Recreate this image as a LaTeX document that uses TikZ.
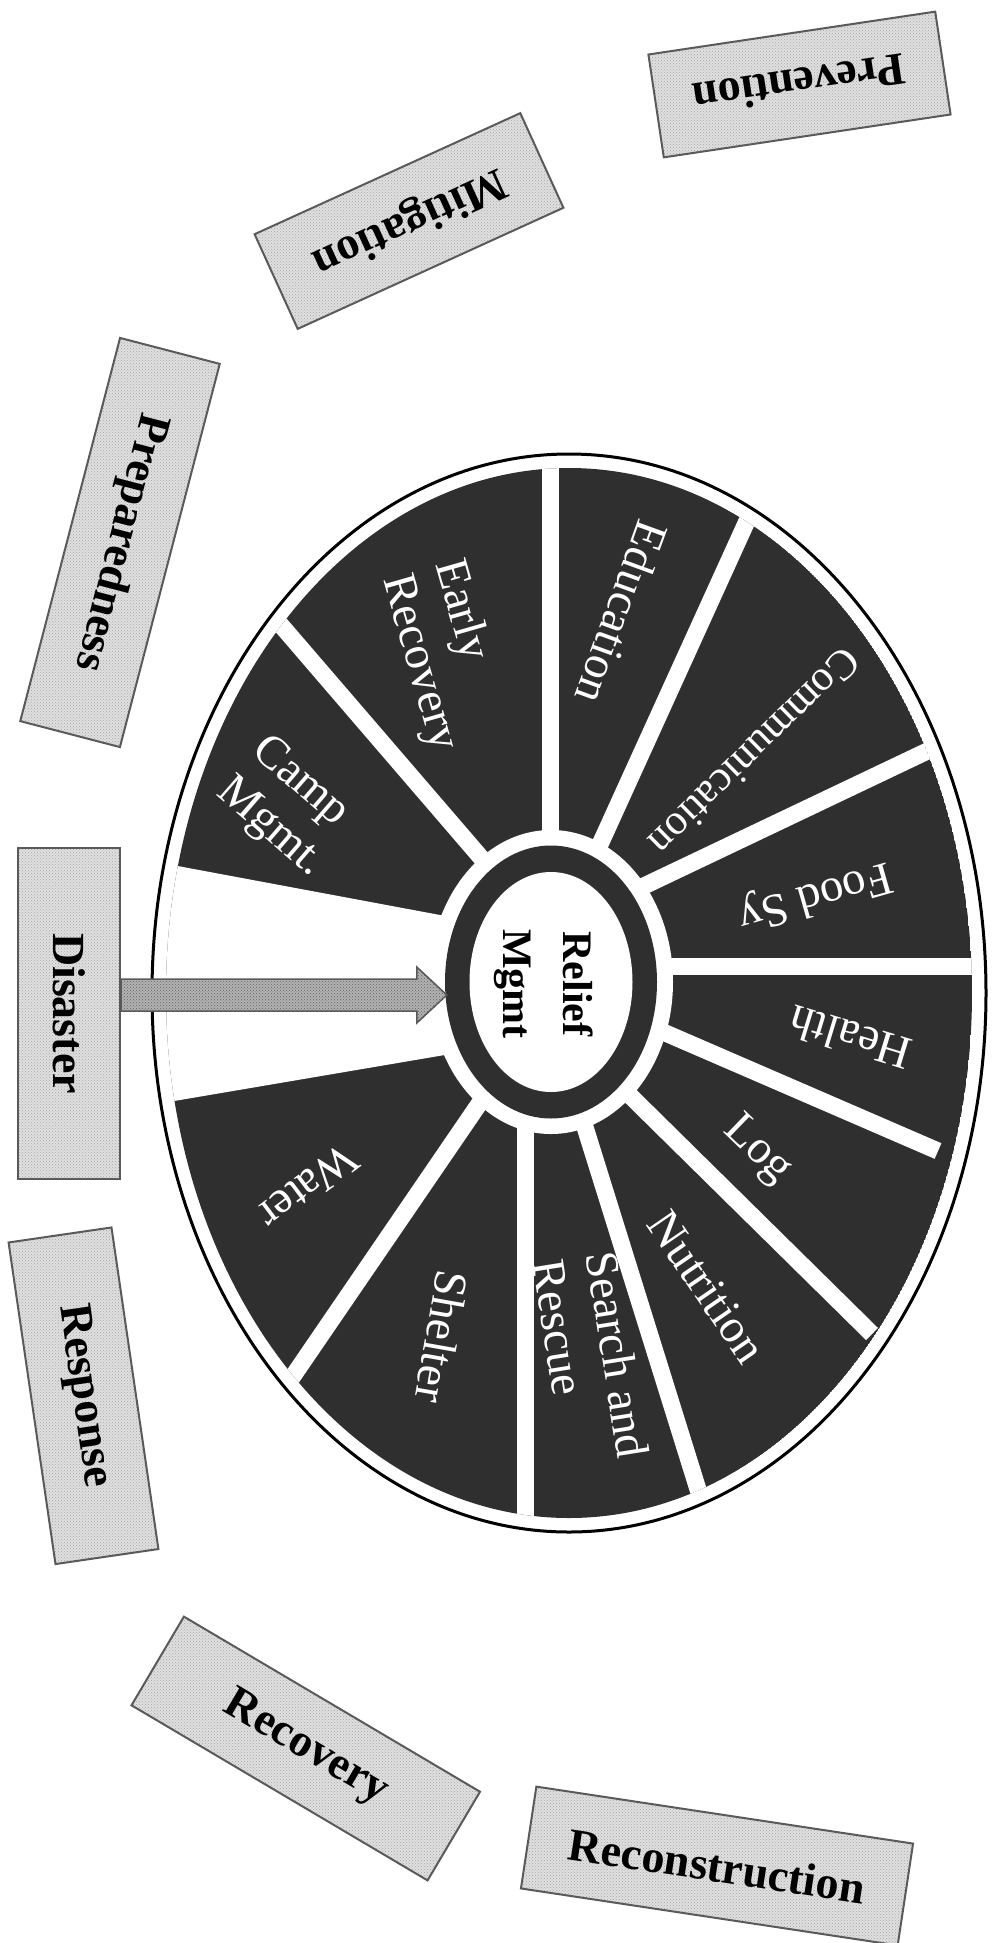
\documentclass[tikz,border=0pt]{standalone}
\usepackage{fontspec}
\setmainfont{Liberation Serif}
\usetikzlibrary{calc,patterns,shapes.geometric}
\definecolor{sect}{HTML}{2F2F2F}
\definecolor{boxline}{HTML}{5A5A5A}
\begin{document}
\begin{tikzpicture}[x=1pt,y=1pt,
  phase/.style={draw=boxline, line width=2, preaction={fill=black!12}, pattern=crosshatch dots, pattern color=black!36,
    font=\fontsize{46}{50}\selectfont\bfseries, inner sep=0, align=center},
  sectlabel/.style={text=white, font=\fontsize{47}{54}\selectfont, inner sep=0, align=left},
  hubtext/.style={text=black, font=\fontsize{42}{60}\selectfont\bfseries, inner sep=0, align=center},
  bar/.style={white, line width=17},
  arrowbody/.style={draw=black!65, line width=1.5, preaction={fill=black!30}, pattern=crosshatch dots, pattern color=black!62},
]
\useasboundingbox (0,0) rectangle (992,-1943);
% wheel body
\begin{scope}
  \clip (569,-993) ellipse [x radius=403, y radius=525];
  \fill[sect] (569,-993) ellipse [x radius=403, y radius=525];
  \draw[bar] (200,-531) -- (520,-903);
  \draw[bar] (550,-400) -- (550,-900);
  \draw[bar] (782,-444) -- (577,-895);
  \draw[bar] (1001,-716) -- (606,-904);
  \draw[bar] (1050,-966) -- (600,-966);
  \draw[bar] (610,-1009) -- (938,-1151);
  \draw[bar] (596,-1062) -- (872,-1334);
  \draw[bar] (570,-1079) -- (715,-1544);
  \draw[bar] (525,-1080) -- (525,-1600);
  \draw[bar] (505,-1066) -- (250,-1439);
  \fill[white] (100,-851.5) -- (470,-920.6) -- (470,-1050.7) -- (100,-1113.6) -- cycle;
\end{scope}
\fill[white] (551,-982) ellipse [x radius=122, y radius=152];
\fill[sect] (551,-982) ellipse [x radius=106, y radius=136.5];
\fill[white] (551,-982) ellipse [x radius=81.5, y radius=110];
\node[ellipse, draw=none, minimum width=212, minimum height=273, inner sep=0] (ring) at (551,-982) {};
\draw[line width=3] (569,-993) ellipse [x radius=417, y radius=539];
% hub text
\node[hubtext, rotate=-90] (hub) at (544,-984) {Relief\\Mgmt};
% sector labels
\node[sectlabel, anchor=west, rotate=-41] (camp) at (240,-766) {Camp\\Mgmt.};
\node[sectlabel, anchor=west, rotate=-74] (early) at (420,-569) {Early\\Recovery};
\node[sectlabel, rotate=-110] (edu) at (622,-613) {Education};
\node[sectlabel, rotate=-135.5, font=\fontsize{43}{50}\selectfont] (comm) at (755,-752) {Communication};
\node[sectlabel, rotate=196] (food) at (815,-895) {Food Sy};
\node[sectlabel, rotate=163] (health) at (850,-1038) {Health};
\node[sectlabel, rotate=-44] (log) at (757,-1150) {Log};
\node[sectlabel, rotate=-55.5] (nut) at (707,-1287) {Nutrition};
\node[sectlabel, anchor=west, rotate=-81] (sar) at (575,-1256) {Search and\\Rescue};
\node[sectlabel, rotate=-100] (shel) at (442,-1337) {Shelter};
\node[sectlabel, rotate=-143] (water) at (308,-1187) {Water};
% phase boxes
\node[phase, minimum width=290, minimum height=104, rotate=188.5] (prev) at (799.5,-84.5) {Prevention};
\node[phase, minimum width=292, minimum height=104, rotate=204.5] (miti) at (409,-221) {Mitigation};
\node[phase, minimum width=396, minimum height=103, rotate=-104.6] (prep) at (120,-542.5) {Preparedness};
\node[phase, minimum width=331, minimum height=102, rotate=-90] (dis) at (69,-1013.5) {Disaster};
\node[phase, minimum width=325, minimum height=104, rotate=-81.7] (resp) at (83.5,-1395.75) {Response};
\node[phase, minimum width=344, minimum height=103, rotate=-30.6] (reco) at (305.75,-1748.5) {Recovery};
\node[phase, minimum width=381, minimum height=103, rotate=-8.6] (recon) at (717,-1866) {Reconstruction};
% disaster arrow
\coordinate (arrS) at (dis.north |- 0,-995);
\coordinate (arrT) at (ring.west |- arrS);
\draw[arrowbody] ($(arrS)+(0,16)$) -- ($(arrT)+(-28,16)$) -- ($(arrT)+(-28,28)$) -- ($(arrT)+(2,0)$)
  -- ($(arrT)+(-28,-28)$) -- ($(arrT)+(-28,-16)$) -- ($(arrS)+(0,-16)$) -- cycle;
\end{tikzpicture}
\end{document}
